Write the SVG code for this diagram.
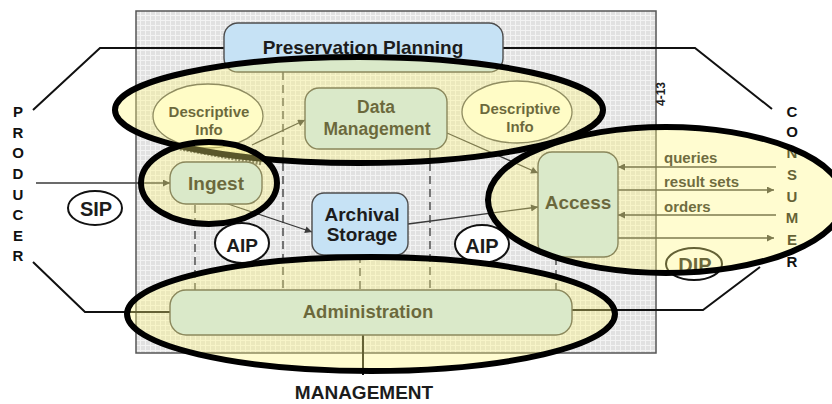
<svg xmlns="http://www.w3.org/2000/svg" width="832" height="404" viewBox="0 0 832 404">
<defs>
<pattern id="grid" width="5" height="5" patternUnits="userSpaceOnUse">
<rect width="5" height="5" fill="#e1e1e1"/>
<path d="M0 0.5H5M0.5 0V5" stroke="#f3f3f3" stroke-width="1" fill="none"/>
</pattern>
<marker id="ah" viewBox="0 0 10 10" refX="10" refY="5" markerWidth="11" markerHeight="7" orient="auto" markerUnits="userSpaceOnUse">
<path d="M0,0 L10,5 L0,10 z" fill="#3a3a3a"/>
</marker>
<style>
.t{font-family:"Liberation Sans",Arial,sans-serif;font-weight:bold;fill:#1c1c1c;text-anchor:middle}
.box{fill:#c6e2f5;stroke:#4d4d4d;stroke-width:1.4}
.di{fill:#fffff0;stroke:#555;stroke-width:1.3}
.pk{fill:#fff;stroke:#111;stroke-width:2}
.ln{stroke:#3a3a3a;stroke-width:1.3;fill:none}
.ol{stroke:#111;stroke-width:2;fill:none}
.dash{stroke:#444;stroke-width:1.4;stroke-dasharray:8 5;fill:none}
.hl{fill:rgb(255,245,120);fill-opacity:0.35;stroke:#000;stroke-width:6}
.let{font-family:"Liberation Sans",Arial,sans-serif;font-weight:bold;font-size:15px;fill:#111;text-anchor:middle}
.lab{font-family:"Liberation Sans",Arial,sans-serif;font-weight:bold;font-size:15px;fill:#222}
</style>
</defs>
<rect width="832" height="404" fill="#fff"/>

<g id="frame">
<rect x="136" y="11" width="520" height="342" fill="url(#grid)" stroke="#555" stroke-width="1.5"/>
<path class="dash" d="M195 205V290M283 72V290M360 255V290M430 150V290M556 257V290"/>
</g>

<g id="connectors">
<polyline class="ol" points="33,110 100,48 224,48"/>
<polyline class="ol" points="33,262 85,312 170,312"/>
<polyline class="ol" points="503,48 695,48 772,109"/>
<polyline class="ol" points="572,310 703,310 760,267"/>
<line class="ol" x1="363" y1="335" x2="363" y2="375"/>
<line class="ln" x1="36" y1="183" x2="170" y2="183" marker-end="url(#ah)"/>
<line class="ln" x1="252" y1="145" x2="305" y2="120" marker-end="url(#ah)"/>
<line x1="180" y1="148" x2="262" y2="163" stroke="#555" stroke-width="5" stroke-dasharray="2 1.5"/>
<line class="ln" x1="225" y1="203" x2="312" y2="232" marker-end="url(#ah)"/>
<line class="ln" x1="447" y1="133" x2="538" y2="173" marker-end="url(#ah)"/>
<line class="ln" x1="408" y1="224" x2="538" y2="207" marker-end="url(#ah)"/>
<line class="ln" x1="776" y1="167" x2="618" y2="167" marker-end="url(#ah)"/>
<line class="ln" x1="618" y1="190" x2="774" y2="190" marker-end="url(#ah)"/>
<line class="ln" x1="776" y1="215" x2="618" y2="215" marker-end="url(#ah)"/>
<line class="ln" x1="618" y1="238" x2="774" y2="238" marker-end="url(#ah)"/>
<text class="lab" x="664" y="163">queries</text>
<text class="lab" x="664" y="187">result sets</text>
<text class="lab" x="664" y="212">orders</text>
</g>

<g id="preservation-planning">
<rect class="box" x="224" y="23" width="279" height="49" rx="14"/>
<text class="t" x="363" y="54" font-size="19">Preservation Planning</text>
</g>
<g id="descriptive-info-1">
<ellipse class="di" cx="208" cy="116" rx="55" ry="32"/>
<text class="t" x="209" y="117" font-size="15">Descriptive</text>
<text class="t" x="209" y="135" font-size="15">Info</text>
</g>
<g id="data-management">
<rect class="box" x="305" y="88" width="142" height="61" rx="14"/>
<text class="t" x="376" y="113" font-size="17.5">Data</text>
<text class="t" x="377" y="135" font-size="17.5">Management</text>
</g>
<g id="descriptive-info-2">
<ellipse class="di" cx="517" cy="112" rx="55" ry="31"/>
<text class="t" x="520" y="114" font-size="15">Descriptive</text>
<text class="t" x="520" y="132" font-size="15">Info</text>
</g>
<g id="ingest">
<rect class="box" x="170" y="162" width="92" height="42" rx="16"/>
<text class="t" x="216" y="190" font-size="19">Ingest</text>
</g>
<g id="archival-storage">
<rect class="box" x="312" y="193" width="96" height="62" rx="12" stroke="#2a2a2a" stroke-width="1.8"/>
<text class="t" x="362" y="221" font-size="19">Archival</text>
<text class="t" x="362" y="241" font-size="19">Storage</text>
</g>
<g id="access">
<rect class="box" x="538" y="152" width="80" height="105" rx="14"/>
<text class="t" x="578" y="209" font-size="19">Access</text>
</g>
<g id="administration">
<rect class="box" x="170" y="290" width="402" height="45" rx="16"/>
<text class="t" x="368" y="318" font-size="18.5">Administration</text>
</g>

<g id="sip">
<ellipse class="pk" cx="95" cy="208" rx="27" ry="17"/>
<text class="t" x="96" y="216" font-size="20">SIP</text>
</g>
<g id="aip-1">
<ellipse class="pk" cx="242" cy="243" rx="27" ry="20"/>
<text class="t" x="242" y="252" font-size="19">AIP</text>
</g>
<g id="aip-2">
<ellipse class="pk" cx="482" cy="244" rx="27" ry="19"/>
<text class="t" x="482" y="253" font-size="20">AIP</text>
</g>
<g id="dip">
<ellipse class="pk" cx="694" cy="264" rx="28" ry="16"/>
<text class="t" x="695" y="272" font-size="20">DIP</text>
</g>

<g id="producer">
<text class="let" x="18" y="117">P</text>
<text class="let" x="18" y="138">R</text>
<text class="let" x="18" y="158">O</text>
<text class="let" x="18" y="179">D</text>
<text class="let" x="18" y="200">U</text>
<text class="let" x="18" y="220">C</text>
<text class="let" x="18" y="241">E</text>
<text class="let" x="18" y="261">R</text>
</g>
<g id="consumer">
<text class="let" x="792" y="117">C</text>
<text class="let" x="792" y="137">O</text>
<text class="let" x="792" y="158">N</text>
<text class="let" x="792" y="180">S</text>
<text class="let" x="792" y="202">U</text>
<text class="let" x="792" y="223">M</text>
<text class="let" x="792" y="245">E</text>
<text class="let" x="792" y="267">R</text>
</g>
<g id="management">
<text class="t" x="364" y="399" font-size="19" fill="#111">MANAGEMENT</text>
</g>
<text class="t" font-size="12" transform="translate(665,94) rotate(-90)">4-13</text>

<g id="highlights">
<ellipse class="hl" cx="359" cy="110" rx="244" ry="53"/>
<ellipse class="hl" cx="209" cy="183" rx="68" ry="41"/>
<ellipse class="hl" cx="666" cy="200" rx="178" ry="73"/>
<ellipse class="hl" cx="371" cy="314" rx="244" ry="57"/>
</g>
</svg>
